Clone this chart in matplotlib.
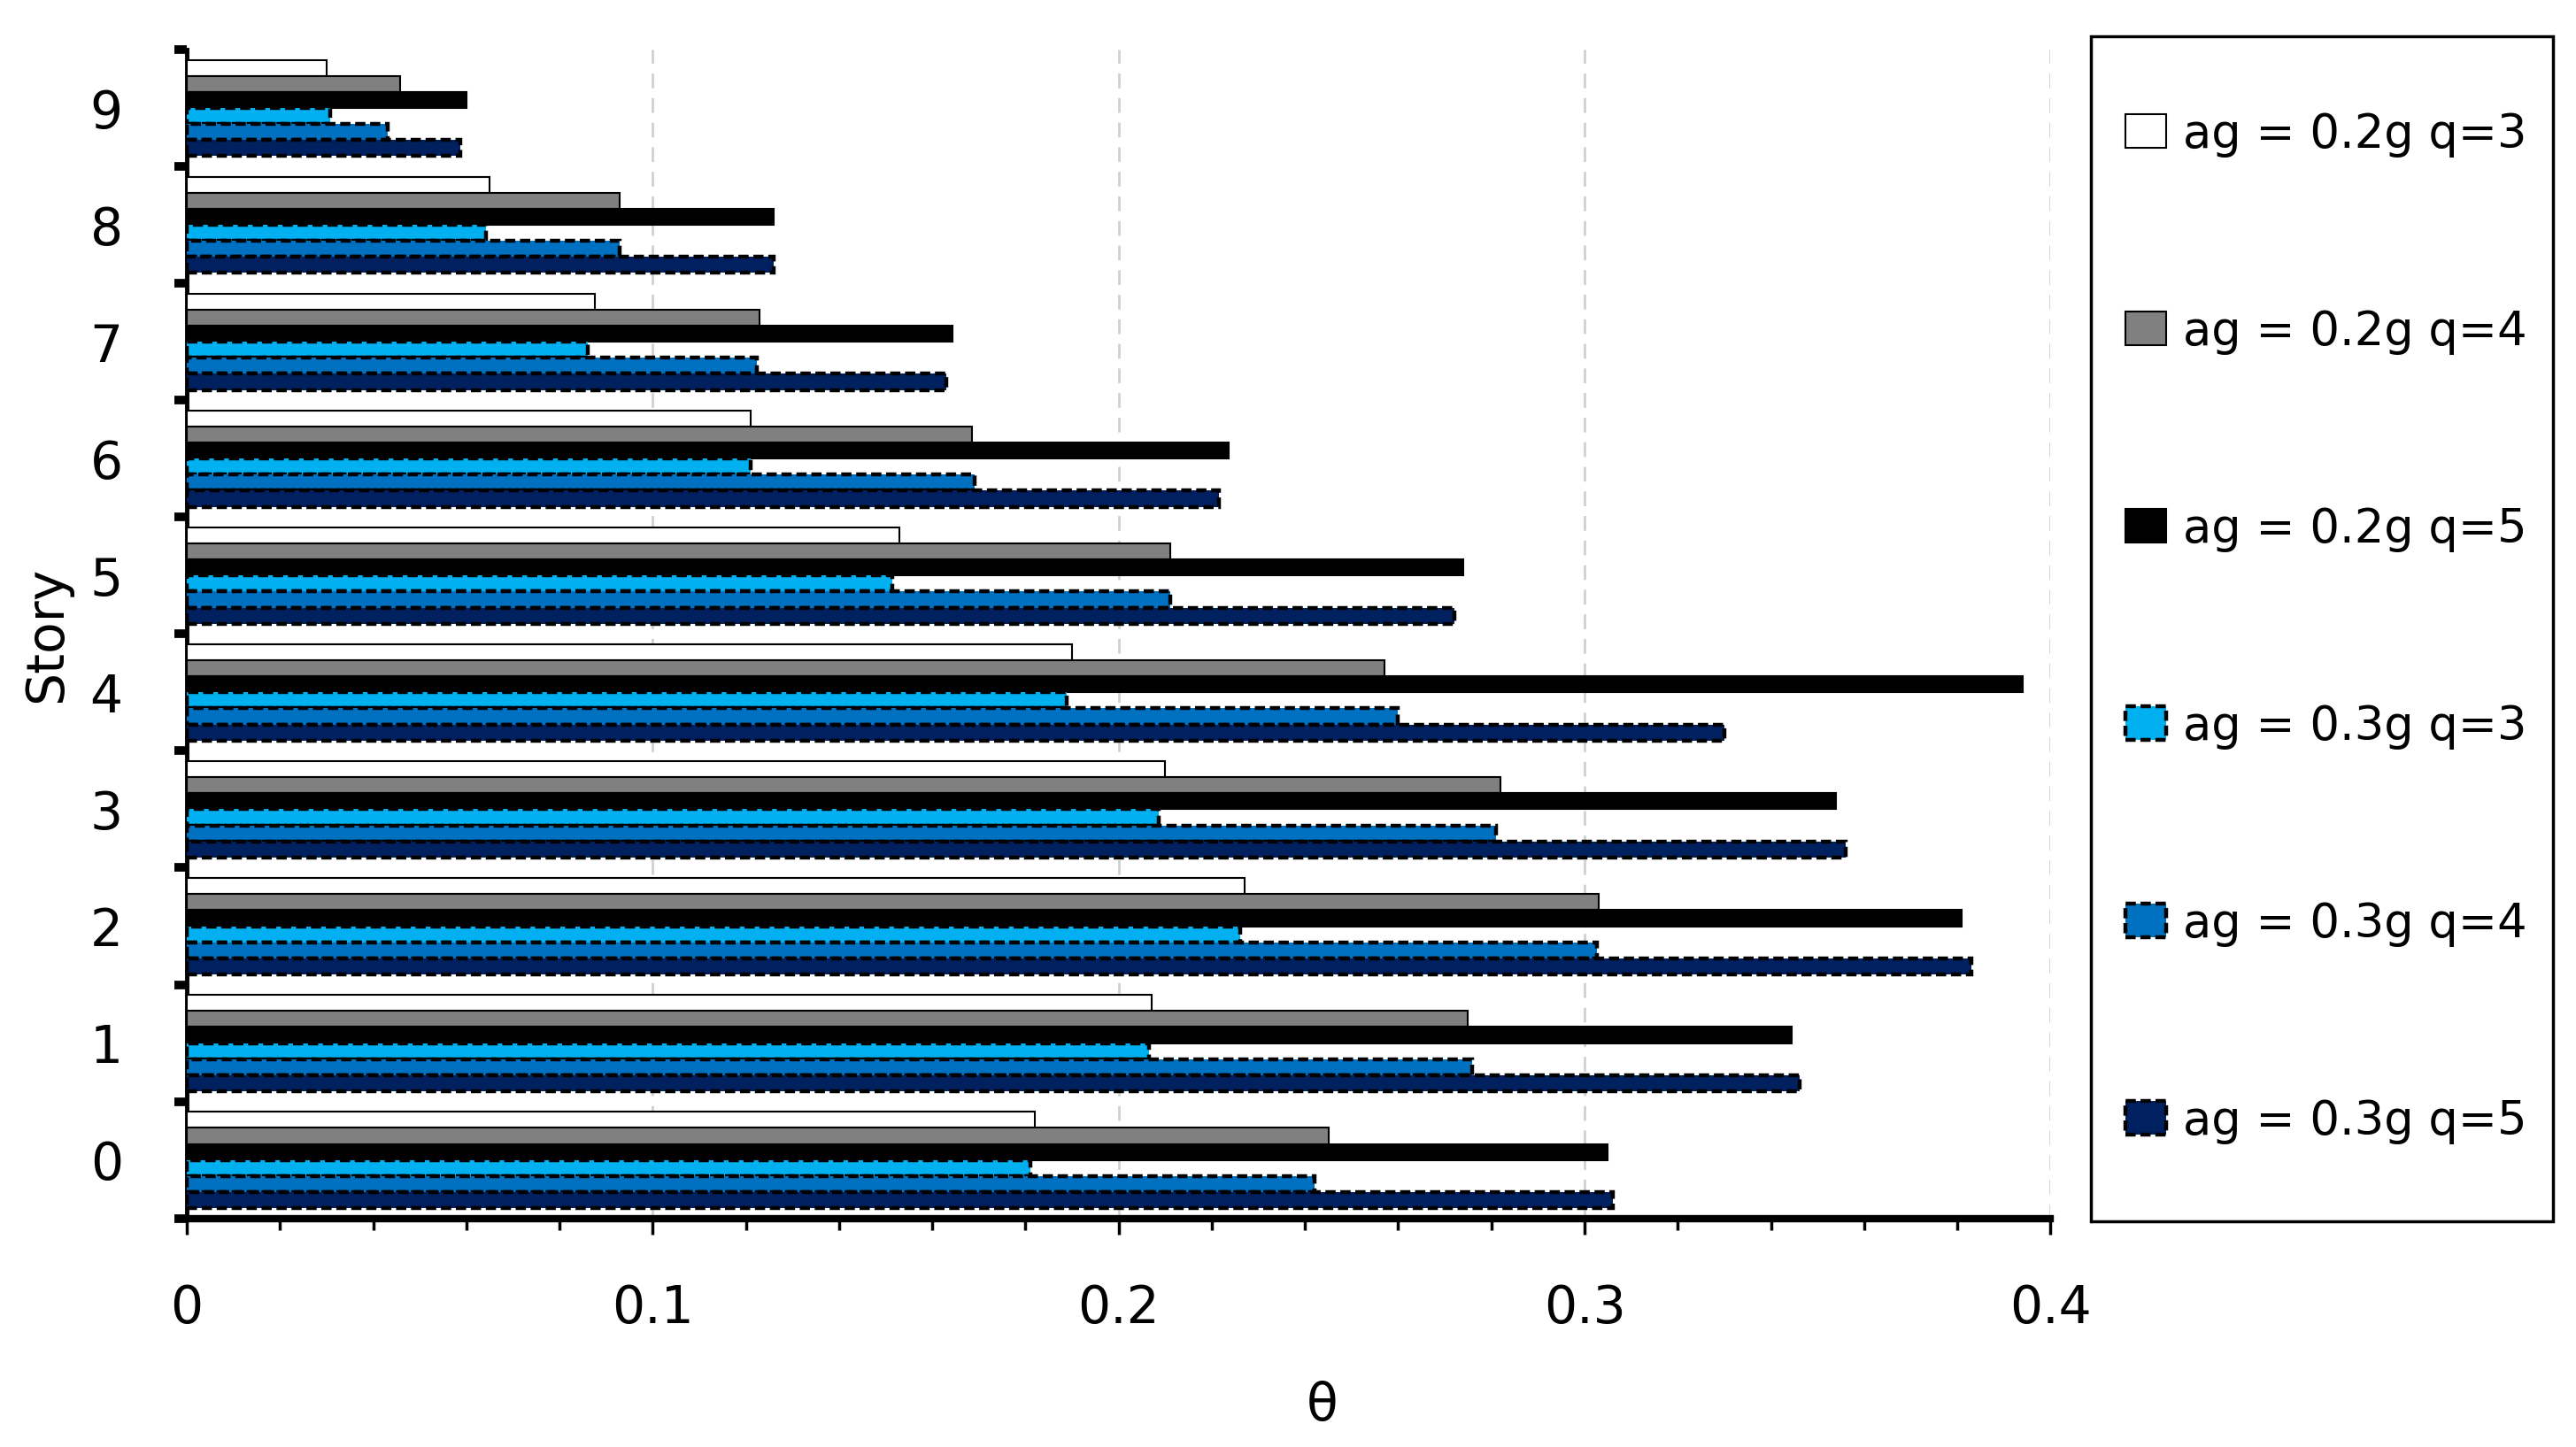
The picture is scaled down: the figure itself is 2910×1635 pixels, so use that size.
import numpy as np
import matplotlib.pyplot as plt
from matplotlib.patches import Rectangle
from matplotlib.ticker import FixedLocator

stories = list(range(10))

labels = ["ag = 0.2g q=3", "ag = 0.2g q=4", "ag = 0.2g q=5",
          "ag = 0.3g q=3", "ag = 0.3g q=4", "ag = 0.3g q=5"]

ag02_q3 = [0.182, 0.207, 0.227, 0.210, 0.190, 0.153, 0.121, 0.0875, 0.065, 0.030]
ag02_q4 = [0.245, 0.275, 0.303, 0.282, 0.257, 0.211, 0.1685, 0.123, 0.093, 0.0457]
ag02_q5 = [0.305, 0.3445, 0.381, 0.354, 0.394, 0.274, 0.2236, 0.1644, 0.126, 0.060]
ag03_q3 = [0.181, 0.2066, 0.226, 0.2087, 0.1888, 0.1514, 0.121, 0.086, 0.0642, 0.0307]
ag03_q4 = [0.242, 0.2758, 0.3027, 0.281, 0.260, 0.211, 0.169, 0.1223, 0.093, 0.0431]
ag03_q5 = [0.306, 0.3462, 0.383, 0.356, 0.330, 0.272, 0.2215, 0.163, 0.126, 0.0588]

x_ticks = [0, 0.1, 0.2, 0.3, 0.4]
x_ticklabels = ["0", "0.1", "0.2", "0.3", "0.4"]

series = [ag02_q3, ag02_q4, ag02_q5, ag03_q3, ag03_q4, ag03_q5]
colors = ["#FFFFFF", "#808080", "#000000", "#00B0F0", "#0070C0", "#002060"]
styles = ["solid", "solid", "solid", (0, (2.6, 1.2)), (0, (2.6, 1.2)), (0, (2.6, 1.2))]
widths = [1.5, 1.5, 1.5, 3.2, 3.2, 3.2]

fig = plt.figure(figsize=(29.1, 16.35), dpi=100)
ax = fig.add_axes([0.0725, 0.158, 0.7235, 0.8077])

h = 0.137
y = np.array(stories, dtype=float)
for i, (vals, c, ls, lw) in enumerate(zip(series, colors, styles, widths)):
    off = (2.5 - i) * h
    ax.barh(y + off, vals, height=h, color=c, edgecolor="black",
            linestyle=ls, linewidth=lw, label=labels[i], zorder=3)

ax.set_xlim(0, 0.4)
ax.set_ylim(-0.5, 9.5)

ax.set_xticks(x_ticks)
ax.set_xticklabels(x_ticklabels)
ax.xaxis.set_minor_locator(FixedLocator(np.arange(0, 0.401, 0.02)))
ax.tick_params(axis="x", which="major", direction="out", length=13, width=2.5,
               labelsize=42, pad=40)
ax.tick_params(axis="x", which="minor", direction="out", length=9, width=2.5)

ax.yaxis.set_major_locator(FixedLocator(np.arange(-0.5, 10, 1)))
ax.yaxis.set_minor_locator(FixedLocator(y))
ax.set_yticklabels([], minor=False)
ax.set_yticklabels([str(s) for s in stories], minor=True)
ax.tick_params(axis="y", which="major", direction="out", length=10, width=7)
ax.tick_params(axis="y", which="minor", length=0, labelsize=42, pad=52)

ax.grid(axis="x", color="#D0D0D0", linestyle=(0, (6, 4)), linewidth=2, zorder=0)

for s in ["top", "right"]:
    ax.spines[s].set_visible(False)
ax.spines["left"].set_linewidth(3.5)
ax.spines["bottom"].set_linewidth(6)

ax.set_xlabel("θ", fontsize=42)
ax.xaxis.set_label_coords(0.609, -0.139)
ax.set_ylabel("Story", fontsize=42, labelpad=15)

leg = fig.legend(loc="center left", bbox_to_anchor=(2401 / 2910, 1 - 709 / 1635),
                 frameon=False, fontsize=38, labelspacing=3.24, borderpad=0,
                 borderaxespad=0, handlelength=0.88, handleheight=0.73,
                 handletextpad=0.35)

fig.patches.append(Rectangle((2362 / 2910, 1 - 1380 / 1635), 522 / 2910, 1339 / 1635,
                             transform=fig.transFigure, fill=False,
                             edgecolor="black", linewidth=2.5))

fig.savefig("out.png", dpi=100)
